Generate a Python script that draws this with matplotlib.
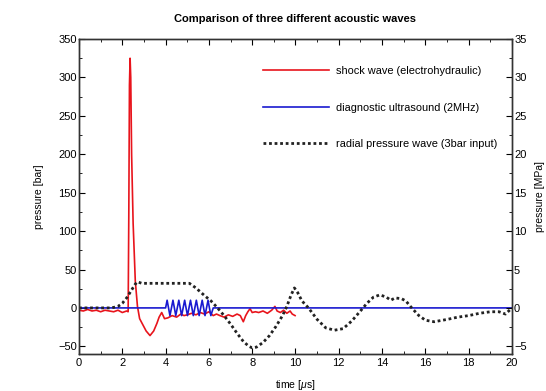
import numpy as np
import matplotlib.pyplot as plt
from matplotlib.ticker import MultipleLocator

plt.rcParams['font.family'] = ['Liberation Sans', 'DejaVu Sans']
plt.rcParams['mathtext.fontset'] = 'custom'
plt.rcParams['mathtext.it'] = 'Liberation Sans:italic'
plt.rcParams['mathtext.rm'] = 'Liberation Sans'

# shock wave (electrohydraulic), bar
shock_t = [0.0, 0.2, 0.4, 0.6, 0.8, 1.0, 1.2, 1.4, 1.6, 1.8, 2.0, 2.2, 2.27,
           2.30, 2.33, 2.36, 2.39, 2.43, 2.5, 2.6, 2.7, 2.8, 2.95, 3.1, 3.28,
           3.45, 3.6, 3.7, 3.82, 3.95, 4.1, 4.3, 4.51, 4.7, 4.85, 5.0, 5.2,
           5.4, 5.6, 5.8, 6.0, 6.2, 6.35, 6.51, 6.7, 6.9, 7.1, 7.3, 7.45,
           7.59, 7.7, 7.8, 7.9, 8.0, 8.15, 8.3, 8.5, 8.7, 8.9, 9.05, 9.15,
           9.3, 9.45, 9.6, 9.75, 9.85, 9.98]
shock_v = [-3, -4, -2, -4, -3, -5, -3, -4, -5, -3, -6, -4, -5,
           120, 290, 325, 300, 200, 110, 35, 2, -14, -22, -30, -36,
           -30, -20, -12, -6, -14, -13, -10, -12, -8, -10, -9, -7,
           -9, -6, -8, -5, -10, -8, -10, -12, -9, -11, -8, -10,
           -18, -10, -5, -1, -6, -5, -6, -4, -7, -3, 2, -4,
           -6, -3, -7, -4, -8, -10]

# diagnostic ultrasound (2MHz), bar
us_t = [0.0, 4.0, 4.07, 4.2, 4.34, 4.47, 4.61, 4.74, 4.88, 5.01, 5.15,
        5.28, 5.42, 5.55, 5.69, 5.82, 5.96, 6.09, 6.2, 20.0]
us_v = [0, 0, 10, -10, 10, -10, 10, -10, 10, -10, 10,
        -10, 10, -10, 10, -10, 10, -10, 0, 0]

# radial pressure wave (3bar input), bar
rad_t = [0.0, 1.5, 1.8, 2.0, 2.2, 2.4, 2.6, 2.7, 2.9, 3.5, 4.5, 5.1, 5.4,
         5.8, 6.1, 6.4, 6.7, 7.0, 7.3, 7.6, 7.85, 8.0, 8.2, 8.5, 8.8, 9.1,
         9.4, 9.6, 9.8, 9.95, 10.1, 10.3, 10.6, 11.0, 11.4, 11.8, 12.2,
         12.6, 13.0, 13.3, 13.6, 13.9, 14.2, 14.4, 14.6, 14.9, 15.1, 15.4,
         15.7, 16.0, 16.4, 17.0, 17.5, 18.0, 18.5, 19.0, 19.4, 19.7, 20.0]
rad_v = [0, 0, 2, 6, 13, 22, 31, 34, 32, 32, 32, 32, 26,
         16, 9, 0, -10, -21, -33, -44, -50, -52, -51, -45, -36, -24,
         -10, 2, 17, 26, 20, 9, 0, -15, -26, -29, -27,
         -17, -4, 6, 14, 17, 14, 10, 13, 12, 9, -1,
         -10, -16, -18, -15, -12, -10, -7, -5, -5, -8, 0]

fig = plt.figure(figsize=(5.46, 3.91), dpi=100)
ax = fig.add_axes([0.1447, 0.0946, 0.793, 0.8056])

ax.plot(shock_t, shock_v, color='#e8141c', lw=1.2, label='shock wave (electrohydraulic)')
ax.plot(us_t, us_v, color='#1a1ad0', lw=1.2, label='diagnostic ultrasound (2MHz)')
ax.plot(rad_t, rad_v, color='#222222', lw=2.0, linestyle=(0, (1, 1)),
        label='radial pressure wave (3bar input)')

ax.set_xlim(0, 20)
ax.set_ylim(-60, 350)
ax.xaxis.set_major_locator(MultipleLocator(2))
ax.xaxis.set_minor_locator(MultipleLocator(1))
ax.yaxis.set_major_locator(MultipleLocator(50))
ax.yaxis.set_minor_locator(MultipleLocator(25))
ax.tick_params(which='both', direction='in', top=True, labelsize=8)
ax.tick_params(axis='x', pad=3)
ax.tick_params(axis='y', pad=1.5)
ax.tick_params(which='major', length=4)
ax.tick_params(which='minor', length=2)

ax2 = ax.twinx()
ax2.set_ylim(-6, 35)
ax2.yaxis.set_major_locator(MultipleLocator(5))
ax2.yaxis.set_minor_locator(MultipleLocator(2.5))
ax2.tick_params(which='both', direction='in', labelsize=8, pad=1.5)
ax2.tick_params(which='major', length=4)
ax2.tick_params(which='minor', length=2)

for a in (ax, ax2):
    for s in a.spines.values():
        s.set_color('#333333')
        s.set_linewidth(1.0)

ax.set_ylabel('pressure [bar]', fontsize=7.5, labelpad=10)
ax2.set_ylabel('pressure [MPa]', fontsize=7.5, labelpad=6)
ax.set_xlabel(r'time [$\mathit{\mu}$s]', fontsize=7.5, labelpad=7)
ax.set_title('Comparison of three different acoustic waves', fontsize=8,
             fontweight='bold', pad=12)

ax.legend(loc='upper right', bbox_to_anchor=(0.99, 0.945), frameon=False,
          fontsize=7.9, handlelength=6.0, labelspacing=2.4, handletextpad=0.7)

fig.savefig('out.png', dpi=100)
